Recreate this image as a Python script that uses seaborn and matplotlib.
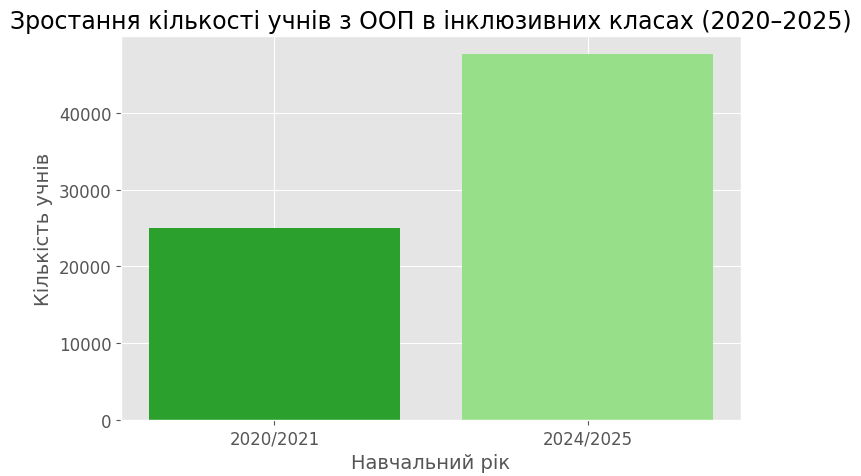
import matplotlib
matplotlib.use('Agg')
import matplotlib.pyplot as plt
import seaborn as sns
import pandas as pd

# дані
years = ['2020/2021', '2024/2025']
students = [25000, 47600]
bar_colors = ['#2ca02c', '#98df8a']

plt.style.use('ggplot')
plt.rcParams['font.family'] = ['DejaVu Sans']

df = pd.DataFrame({'year': years, 'students': students})

fig, ax = plt.subplots(figsize=(8.62, 4.77), dpi=100)
sns.barplot(data=df, x='year', y='students', hue='year', palette=bar_colors,
            legend=False, width=0.8, linewidth=0, saturation=1, ax=ax)

ax.set_xlim(-0.49, 1.49)
ax.set_ylim(0, max(students) * 1.05)
ax.xaxis.grid(True, color='white')
ax.set_axisbelow(True)
ax.set_title('Зростання кількості учнів з ООП в інклюзивних класах (2020–2025)',
             fontsize=17, color='black')
ax.set_xlabel('Навчальний рік', fontsize=14, color='#555555')
ax.set_ylabel('Кількість учнів', fontsize=14, color='#555555')
ax.tick_params(axis='both', labelsize=12, colors='#555555')

fig.subplots_adjust(left=0.1404, right=0.8596, top=0.9224, bottom=0.1174)
fig.savefig('out.png', dpi=100)
